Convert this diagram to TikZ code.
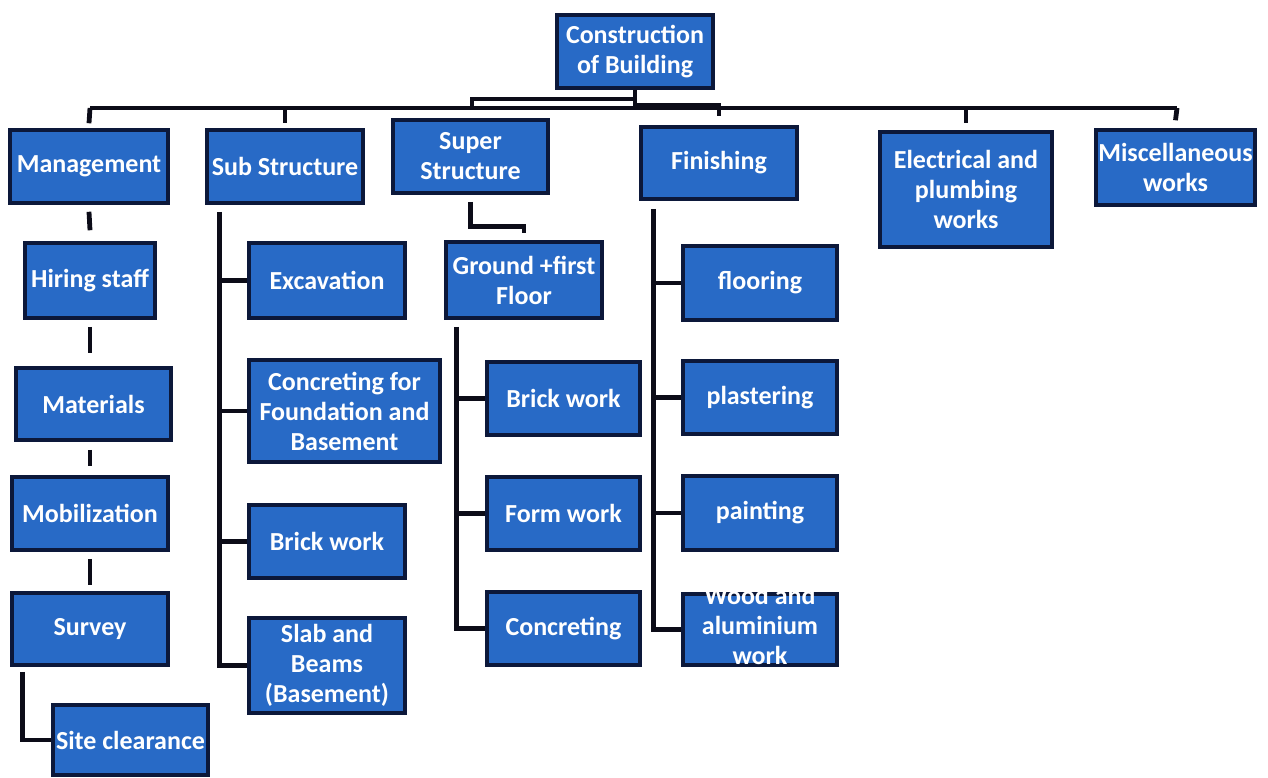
\documentclass[tikz,border=0pt]{standalone}
\usepackage{fontspec}
\setmainfont{Carlito}
\definecolor{boxblue}{RGB}{40,106,198}
\definecolor{boxedge}{RGB}{12,24,58}
\definecolor{linecol}{RGB}{12,12,24}
\tikzset{
  box/.style={draw=boxedge, line width=3.5pt, fill=boxblue, text=white,
    font=\fontsize{26}{30}\selectfont\bfseries, align=center, inner sep=0pt},
  conn/.style={draw=linecol, line width=4.8pt}
}
\begin{document}
\begin{tikzpicture}[x=1pt,y=-1pt]
\useasboundingbox (0,0) rectangle (1268,777);
% top level
\node[box, minimum width=156pt, minimum height=73pt] (root) at (635,51.5) {Construction\\of Building};
\node[box, minimum width=158pt, minimum height=73pt] (mgmt) at (89,166.5) {Management};
\node[box, minimum width=156pt, minimum height=73pt] (sub) at (285,166.5) {Sub Structure};
\node[box, minimum width=155pt, minimum height=73pt] (super) at (470.5,156.5) {Super\\Structure};
\node[box, minimum width=156pt, minimum height=72pt] (fin) at (719,163) {Finishing};
\node[box, minimum width=172pt, minimum height=115pt] (elec) at (966,189.5) {Electrical and\\plumbing\\works};
\node[box, minimum width=159pt, minimum height=75pt] (misc) at (1175.5,167.5) {Miscellaneous\\works};
% management column
\node[box, minimum width=130pt, minimum height=75pt] (hire) at (90,280.5) {Hiring staff};
\node[box, minimum width=155pt, minimum height=72pt] (mat) at (93.5,404) {Materials};
\node[box, minimum width=156pt, minimum height=73pt] (mob) at (90,513.5) {Mobilization};
\node[box, minimum width=156pt, minimum height=72pt] (survey) at (90,629) {Survey};
\node[box, minimum width=155pt, minimum height=70pt] (site) at (130.5,740) {Site clearance};
% sub structure column
\node[box, minimum width=156pt, minimum height=75pt] (exc) at (327,280.5) {Excavation};
\node[box, minimum width=191pt, minimum height=102pt] (cfb) at (344.5,411) {Concreting for\\Foundation and\\Basement};
\node[box, minimum width=156pt, minimum height=73pt] (bws) at (327,541.5) {Brick work};
\node[box, minimum width=156pt, minimum height=95pt] (slab) at (327,665.5) {Slab and\\Beams\\(Basement)};
% super structure column
\node[box, minimum width=156pt, minimum height=76pt] (ground) at (524,280) {Ground +first\\Floor};
\node[box, minimum width=153pt, minimum height=73pt] (bwu) at (563.5,398.5) {Brick work};
\node[box, minimum width=153pt, minimum height=73pt] (form) at (563.5,513.5) {Form work};
\node[box, minimum width=153pt, minimum height=73pt] (conc) at (563.5,628.5) {Concreting};
% finishing column
\node[box, minimum width=154pt, minimum height=74pt] (floor) at (760,283) {flooring};
\node[box, minimum width=154pt, minimum height=73pt] (plas) at (760,397.5) {plastering};
\node[box, minimum width=154pt, minimum height=74pt] (paint) at (760,513) {painting};
\node[box, minimum width=154pt, minimum height=71pt] (wood) at (760,629.5) {\smash{\raisebox{-5pt}{\begin{tabular}{@{}c@{}}Wood and\\aluminium\\work\end{tabular}}}};
% top connectors
\coordinate (j1) at (635,99);
\coordinate (busL) at (90,108);
\coordinate (busR) at (1177,108);
\draw[conn] (root.south) -- (j1) -| (472,108);
\draw[conn] (j1) -- (635,105) -| ([yshift=9pt]fin.north);
\draw[conn] (busL) -- (busR);
\draw[conn] (busL) -- ([yshift=5pt]mgmt.north);
\draw[conn] (busL -| sub.north) -- ([yshift=5pt]sub.north);
\draw[conn] (busL -| elec.north) -- ([yshift=7pt]elec.north);
\draw[conn] (busR) -- ([yshift=8pt]misc.north);
% management chain
\draw[conn] ([yshift=-7pt]mgmt.south) -- ([yshift=11pt]hire.north);
\draw[conn] ([yshift=-7pt]hire.south) -- ([xshift=-3.5pt,yshift=13pt]mat.north);
\draw[conn] ([xshift=-3.5pt,yshift=-8pt]mat.south) -- ([yshift=9pt]mob.north);
\draw[conn] ([yshift=-7pt]mob.south) -- ([yshift=6pt]survey.north);
\draw[conn] ([xshift=12pt,yshift=-5pt]survey.south west) |- (site.west);
% sub structure spine
\coordinate (sspine) at ([xshift=14pt,yshift=-7pt]sub.south west);
\draw[conn] (sspine) |- (slab.west);
\draw[conn] (exc.west) -- (exc.west -| sspine);
\draw[conn] (cfb.west) -- (cfb.west -| sspine);
\draw[conn] (bws.west) -- (bws.west -| sspine);
% super structure
\draw[conn] ([yshift=-7pt]super.south) -- ++(0,25) -| ([yshift=7pt]ground.north);
\coordinate (gspine) at ([xshift=12pt,yshift=-7pt]ground.south west);
\draw[conn] (gspine) |- (conc.west);
\draw[conn] (bwu.west) -- (bwu.west -| gspine);
\draw[conn] (form.west) -- (form.west -| gspine);
% finishing spine
\coordinate (fspine) at ([xshift=14pt,yshift=-8pt]fin.south west);
\draw[conn] (fspine) |- (wood.west);
\draw[conn] (floor.west) -- (floor.west -| fspine);
\draw[conn] (plas.west) -- (plas.west -| fspine);
\draw[conn] (paint.west) -- (paint.west -| fspine);
\end{tikzpicture}
\end{document}
